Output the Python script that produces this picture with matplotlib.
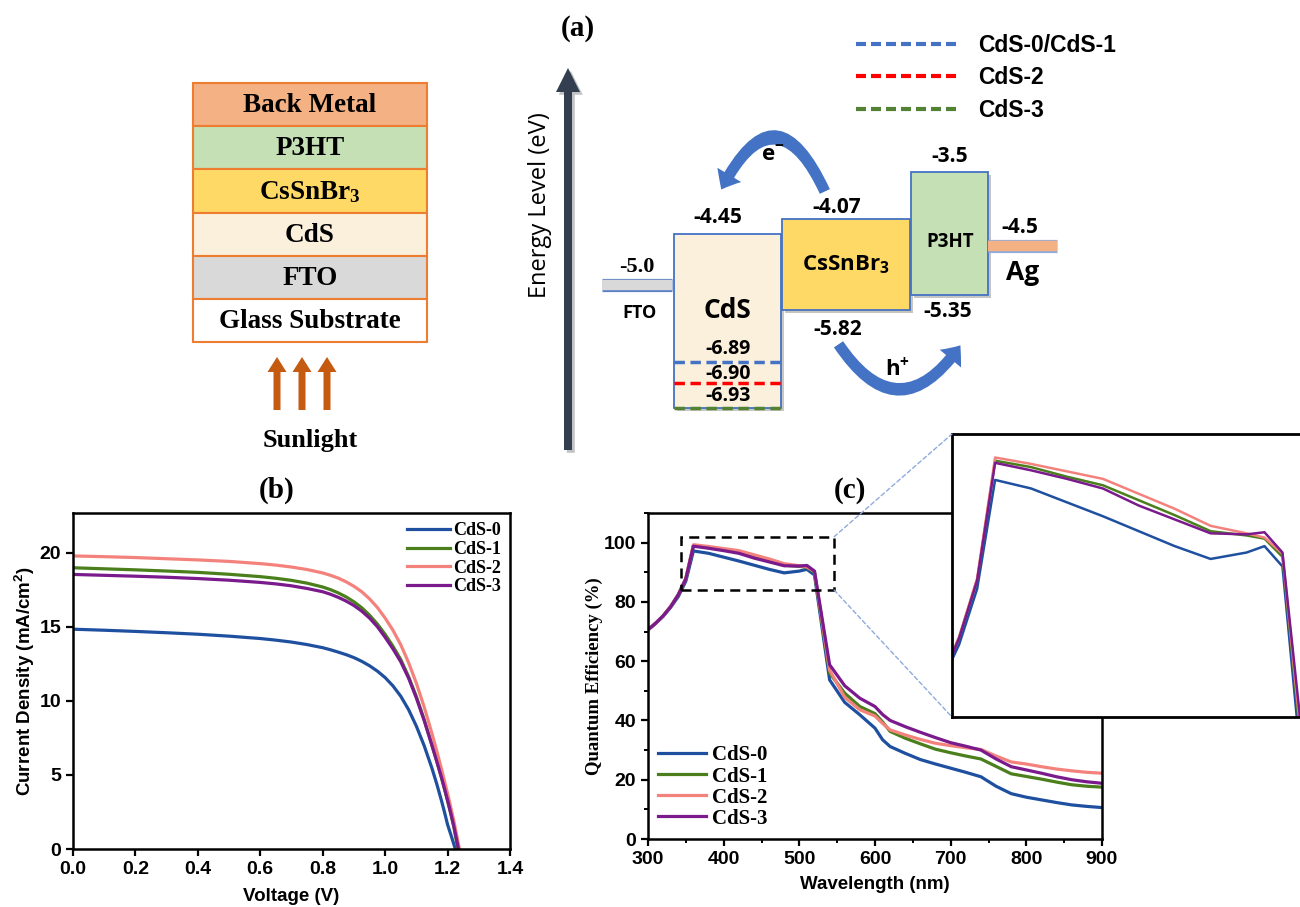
import numpy as np
import matplotlib
matplotlib.use("Agg")
import matplotlib.pyplot as plt
import matplotlib.patheffects as pe
from matplotlib.patches import Rectangle, FancyArrowPatch, ConnectionPatch
from matplotlib.lines import Line2D
from matplotlib.ticker import MultipleLocator

plt.rcParams['font.family'] = ['Liberation Sans', 'DejaVu Sans']
plt.rcParams['font.weight'] = 'bold'

# ---------------- (a) device stack ----------------
stack_layers = ["Back Metal", "P3HT", r"CsSnBr$\mathregular{_3}$", "CdS", "FTO", "Glass Substrate"]
stack_colors = ["#f4b183", "#c5e0b4", "#ffd966", "#fbf0dc", "#d9d9d9", "#ffffff"]

# ---------------- (a) band alignment (eV) ----------------
band_names = ["CdS", r"CsSnBr$\mathregular{_3}$", "P3HT"]
band_cb = [-4.45, -4.07, -3.5]
band_vb = [-6.93, -5.82, -5.35]
band_colors = ["#fbf0dc", "#ffd966", "#c5e0b4"]
fto_level = -5.0
ag_level = -4.5
cds_vb_variants = [-6.89, -6.90, -6.93]
variant_labels = ["CdS-0/CdS-1", "CdS-2", "CdS-3"]
variant_colors = ["#4472c4", "#ff0000", "#548235"]

# schematic (non-linear) energy axis: level -> row of the drawing
scale_E = [-12.0, -6.93, -6.90, -6.89, -5.82, -5.35, -5.0, -4.5, -4.45, -4.07, -3.5, 0.0]
scale_px = [907, 408, 383, 362, 310, 295, 285, 246, 234, 219, 172, 0]

# ---------------- (b) J-V ----------------
series = ["CdS-0", "CdS-1", "CdS-2", "CdS-3"]
colors = ["#1f50a0", "#4a7f1c", "#f4827c", "#7a1a8c"]
voltage = [0, 0.1, 0.2, 0.3, 0.4, 0.5, 0.6, 0.65, 0.7, 0.75, 0.8, 0.825, 0.85, 0.875,
           0.9, 0.925, 0.95, 0.975, 1.0, 1.025, 1.05, 1.075, 1.1, 1.125, 1.15, 1.165,
           1.18, 1.19, 1.2, 1.21, 1.22]
voc = [1.225, 1.233, 1.238, 1.235]
jsc_curves = [
    [14.85, 14.78, 14.70, 14.61, 14.51, 14.38, 14.22, 14.11, 13.98, 13.81, 13.60, 13.46,
     13.30, 13.13, 12.93, 12.68, 12.38, 12.02, 11.58, 11.02, 10.32, 9.42, 8.30, 6.98,
     5.45, 4.42, 3.30, 2.50, 1.65, 1.00, 0.33],
    [19.00, 18.93, 18.86, 18.78, 18.69, 18.56, 18.40, 18.29, 18.15, 17.96, 17.70, 17.52,
     17.30, 17.03, 16.70, 16.30, 15.80, 15.20, 14.50, 13.70, 12.80, 11.65, 10.30, 8.75,
     7.00, 5.95, 4.85, 4.05, 3.25, 2.40, 1.50],
    [19.80, 19.75, 19.69, 19.61, 19.53, 19.43, 19.28, 19.18, 19.05, 18.88, 18.65, 18.49,
     18.30, 18.05, 17.75, 17.38, 16.90, 16.32, 15.60, 14.78, 13.80, 12.60, 11.20, 9.60,
     7.80, 6.65, 5.45, 4.60, 3.75, 2.85, 1.90],
    [18.55, 18.49, 18.43, 18.36, 18.27, 18.16, 18.01, 17.91, 17.78, 17.60, 17.38, 17.21,
     17.00, 16.75, 16.45, 16.07, 15.60, 15.02, 14.30, 13.52, 12.65, 11.55, 10.20, 8.68,
     7.00, 5.95, 4.88, 4.10, 3.30, 2.45, 1.55],
]

# ---------------- (c) QE ----------------
wavelength = [300, 310, 320, 330, 340, 350, 360, 380, 400, 420, 440, 460, 480, 500, 510,
              520, 540, 560, 580, 600, 610, 620, 640, 660, 680, 700, 720, 740, 760, 780,
              800, 820, 840, 860, 880, 900]
qe_curves = [
    [70.6, 72.7, 75.1, 78.2, 81.8, 87.0, 97.2, 96.4, 95.1, 93.8, 92.4, 91.0, 89.8, 90.4, 91.0,
     89.1, 53.7, 46.1, 41.9, 37.4, 33.5, 31.2, 28.9, 26.8, 25.3, 23.9, 22.5, 21.0, 17.8, 15.3,
     14.1, 13.2, 12.3, 11.5, 11.0, 10.6],
    [70.6, 72.8, 75.3, 78.5, 82.5, 87.8, 99.0, 98.4, 97.5, 96.7, 95.3, 93.9, 92.4, 92.0, 91.7,
     90.0, 56.0, 49.2, 44.7, 42.3, 39.5, 36.3, 34.0, 32.1, 30.3, 29.1, 28.0, 27.0, 24.5, 22.0,
     21.1, 20.2, 19.2, 18.3, 17.8, 17.5],
    [70.6, 72.8, 75.3, 78.5, 82.5, 88.0, 99.3, 98.7, 98.0, 97.3, 95.9, 94.5, 92.9, 92.2, 91.8,
     90.3, 57.0, 47.8, 43.6, 41.5, 39.0, 36.8, 35.1, 33.6, 32.3, 31.5, 30.8, 30.2, 28.0, 26.0,
     25.3, 24.4, 23.6, 23.0, 22.5, 22.2],
    [70.6, 72.8, 75.3, 78.4, 82.4, 87.8, 98.8, 98.1, 97.3, 96.4, 94.8, 93.5, 92.2, 92.1, 92.3,
     90.4, 58.8, 51.7, 47.5, 44.7, 42.0, 40.0, 37.9, 36.0, 34.2, 32.5, 31.3, 30.0, 27.0, 24.4,
     23.3, 22.2, 21.0, 20.0, 19.3, 18.8],
]
zoom_wl = (343, 546)
zoom_qe = (84, 102)

W, H = 1300, 907
fig = plt.figure(figsize=(W / 100, H / 100), dpi=100)

SERIF = ['Liberation Serif', 'DejaVu Serif']
DIAG = ['Open Sans', 'DejaVu Sans']


def e_fwd(E):
    return np.interp(E, scale_E, -np.asarray(scale_px, float))


def e_inv(u):
    return np.interp(u, -np.asarray(scale_px, float), scale_E)


# band diagram on a schematic energy scale (drawn underneath the pixel canvas)
ax_e = fig.add_axes([0, 0, 1, 1], zorder=1)
ax_e.set_yscale('function', functions=(e_fwd, e_inv))
ax_e.set_xlim(0, W)
ax_e.set_ylim(scale_E[0], scale_E[-1])
ax_e.axis('off')

# pixel canvas for the rest of the schematic
ax0 = fig.add_axes([0, 0, 1, 1], zorder=2)
ax0.set_xlim(0, W)
ax0.set_ylim(H, 0)
ax0.axis('off')

# layer stack
stack_x0, stack_w, stack_top, layer_h = 193, 234, 83, 43.2
for i, (name, col) in enumerate(zip(stack_layers, stack_colors)):
    y = stack_top + i * layer_h
    ax0.add_patch(Rectangle((stack_x0, y), stack_w, layer_h, fc=col, ec='#ed7d31', lw=1.5))
    ax0.text(stack_x0 + stack_w / 2, y + layer_h / 2 + 1, name, ha='center', va='center',
             family=SERIF, weight='bold', fontsize=19.5)
for xc in (277, 302, 327):
    ax0.arrow(xc, 410, 0, -53, width=7, head_width=19, head_length=15,
              length_includes_head=True, color='#c55a11', lw=0)
ax0.text(310, 440, "Sunlight", ha='center', va='center', family=SERIF, weight='bold', fontsize=19)

# panel letters
ax0.text(578, 28, "(a)", ha='center', va='center', family=SERIF, weight='bold', fontsize=21)
ax0.text(277, 490, "(b)", ha='center', va='center', family=SERIF, weight='bold', fontsize=21)
ax0.text(850, 490, "(c)", ha='center', va='center', family=SERIF, weight='bold', fontsize=21)

# energy axis arrow
ax0.arrow(568, 450, 0, -382, width=8, head_width=24, head_length=24,
          length_includes_head=True, color='#333f50', lw=0,
          path_effects=[pe.SimplePatchShadow(offset=(2, -2), alpha=0.25), pe.Normal()])
ax0.text(540, 205, "Energy Level (eV)", rotation=90, ha='center', va='center',
         family=DIAG, weight='medium', fontsize=17)

# carrier transfer arrows
arrow_kw = dict(arrowstyle="simple,head_length=12,head_width=20,tail_width=8",
                color='#4472c4', lw=0, mutation_scale=1)
ax0.add_patch(FancyArrowPatch((826, 194), (720, 192), connectionstyle="arc3,rad=1.05", **arrow_kw))
ax0.add_patch(FancyArrowPatch((837, 342), (962, 343), connectionstyle="arc3,rad=0.75", **arrow_kw))
ax0.text(773, 155, r"e$\mathregular{^{-}}$", ha='center', va='center', family=DIAG, weight='bold', fontsize=16)
ax0.text(897, 368, r"h$\mathregular{^{+}}$", ha='center', va='center', family=DIAG, weight='bold', fontsize=16)

shadow = [pe.SimplePatchShadow(offset=(2, -2), alpha=0.3), pe.Normal()]
band_x = [(674, 781), (782, 910), (911, 988)]
for (x0, x1), cb, vb, fc in zip(band_x, band_cb, band_vb, band_colors):
    ax_e.add_patch(Rectangle((x0, vb), x1 - x0, cb - vb, fc=fc, ec='#4472c4', lw=1.3,
                             path_effects=shadow))

for (x0, x1), E, fc, ec in [((602, 672), fto_level, '#d9d9d9', '#5b7fc7'),
                            ((988, 1057), ag_level, '#f4b183', '#8faadc')]:
    ax_e.plot([x0, x1], [E, E], color=fc, lw=7.5, solid_capstyle='butt',
              path_effects=[pe.Stroke(linewidth=9.5, foreground=ec), pe.Normal()])

for E, c in zip(cds_vb_variants, variant_colors):
    ax_e.plot([band_x[0][0], band_x[0][1]], [E, E], color=c, lw=2.5, ls=(0, (3, 1.6)))


def level_label(x, E, dy, text, fs=15, family=DIAG):
    ax_e.annotate(text, xy=(x, E), xytext=(0, dy), textcoords='offset points',
                  ha='center', va='center', family=family, weight='bold', fontsize=fs)


level_label(718, band_cb[0], 12, f"{band_cb[0]:.2f}")
level_label(837, band_cb[1], 8, f"{band_cb[1]:.2f}")
level_label(838, band_vb[1], -14, f"{band_vb[1]:.2f}")
level_label(950, band_cb[2], 11, f"{band_cb[2]:.1f}")
level_label(948, band_vb[2], -12, f"{band_vb[2]:.2f}")
level_label(1020, ag_level, 13, f"{ag_level:.1f}")
ax_e.annotate(f"{fto_level:.1f}", xy=(637, fto_level), xytext=(0, 13), textcoords='offset points',
              ha='center', va='center', family=SERIF, weight='bold', fontsize=16)
for E, dy in zip(cds_vb_variants, (9.5, 6.5, 8.5)):
    level_label(728, E, dy, f"{E:.2f}", fs=14)

# material names
ax0.text(640, 313, "FTO", ha='center', va='center', family=DIAG, weight='bold', fontsize=13)
ax0.text(727, 310, band_names[0], ha='center', va='center', family=DIAG, weight='bold', fontsize=19)
ax0.text(846, 265, band_names[1], ha='center', va='center', family=DIAG, weight='bold', fontsize=16)
ax0.text(950, 242, band_names[2], ha='center', va='center', family=DIAG, weight='bold', fontsize=13.5)
ax0.text(1023, 273, "Ag", ha='center', va='center', family=DIAG, weight='bold', fontsize=19)

handles = [Line2D([], [], color=c, lw=3, ls=(0, (2.4, 1.2))) for c in variant_colors]
ax_e.legend(handles, variant_labels, loc='upper left', bbox_to_anchor=(851 / W, 1 - 29 / H),
            frameon=False, fontsize=16.5, handlelength=4.6, handletextpad=0.75,
            labelspacing=0.42, borderpad=0.2, borderaxespad=0)


def style_axes(ax, lw=1.8):
    for s in ax.spines.values():
        s.set_linewidth(lw)
    ax.tick_params(which='major', direction='out', length=5, width=1.6, labelsize=14)
    ax.tick_params(which='minor', direction='out', length=3, width=1.4)
    for t in ax.get_xticklabels() + ax.get_yticklabels():
        t.set_fontweight('bold')


# ---------------- (b) ----------------
axb = fig.add_axes([73 / W, 1 - 849 / H, 437 / W, 336 / H])
for lab, j, v_oc, c in zip(series, jsc_curves, voc, colors):
    axb.plot(voltage + [v_oc], j + [0.0], color=c, lw=2.3, label=lab)
axb.set_xlim(0, 1.4)
axb.set_ylim(0, 22.7)
axb.xaxis.set_major_locator(MultipleLocator(0.2))
axb.yaxis.set_major_locator(MultipleLocator(5))
axb.xaxis.set_major_formatter(plt.FormatStrFormatter('%.1f'))
style_axes(axb)
axb.set_xlabel("Voltage (V)", fontsize=13.5, weight='bold')
axb.set_ylabel(r"Current Density (mA/cm$\mathregular{^2}$)", fontsize=13.5, weight='bold')
axb.xaxis.set_label_coords(0.5, -0.115)
axb.yaxis.set_label_coords(-0.083, 0.5)
axb.legend(loc='upper right', frameon=False, prop=dict(family=SERIF, weight='bold', size=13),
           handlelength=2.4, handletextpad=0.15, labelspacing=0.1, borderaxespad=0.2, borderpad=0.3)

# ---------------- (c) ----------------
axc = fig.add_axes([648 / W, 1 - 839 / H, 454 / W, 326 / H])
for lab, q, c in zip(series, qe_curves, colors):
    axc.plot(wavelength, q, color=c, lw=2.3, label=lab)
axc.set_xlim(300, 900)
axc.set_ylim(0, 110)
axc.xaxis.set_major_locator(MultipleLocator(100))
axc.xaxis.set_minor_locator(MultipleLocator(50))
axc.yaxis.set_major_locator(MultipleLocator(20))
axc.yaxis.set_minor_locator(MultipleLocator(10))
style_axes(axc)
axc.set_xlabel("Wavelength (nm)", fontsize=13.5, weight='bold')
axc.set_ylabel("Quantum Efficiency (%)", fontsize=13.5, family=SERIF, weight='bold')
axc.xaxis.set_label_coords(0.5, -0.115)
axc.yaxis.set_label_coords(-0.1, 0.5)
axc.legend(loc='lower left', frameon=False, prop=dict(family=SERIF, weight='bold', size=15),
           handlelength=2.3, handletextpad=0.25, labelspacing=0.05, borderaxespad=0.1, borderpad=0.4)
axc.add_patch(Rectangle((zoom_wl[0], zoom_qe[0]), zoom_wl[1] - zoom_wl[0], zoom_qe[1] - zoom_qe[0],
                        fill=False, ec='black', lw=1.8, ls=(0, (4, 2.5)), zorder=5))

# magnified view of the plateau
axi = fig.add_axes([952 / W, 1 - 717 / H, 352 / W, 283 / H])
for q, c in zip(qe_curves, colors):
    axi.plot(wavelength, q, color=c, lw=1.8)
axi.set_xlim(336, 532)
axi.set_ylim(75, 101.5)
axi.set_xticks([])
axi.set_yticks([])
for s in axi.spines.values():
    s.set_linewidth(2)

for yq, yi in ((zoom_qe[1], 1), (zoom_qe[0], 0)):
    con = ConnectionPatch(xyA=(zoom_wl[1], yq), coordsA=axc.transData, xyB=(0, yi),
                          coordsB=axi.transAxes, color='#8faadc', lw=1, ls=(0, (3, 2)))
    fig.add_artist(con)

fig.savefig("out.png", dpi=100)
